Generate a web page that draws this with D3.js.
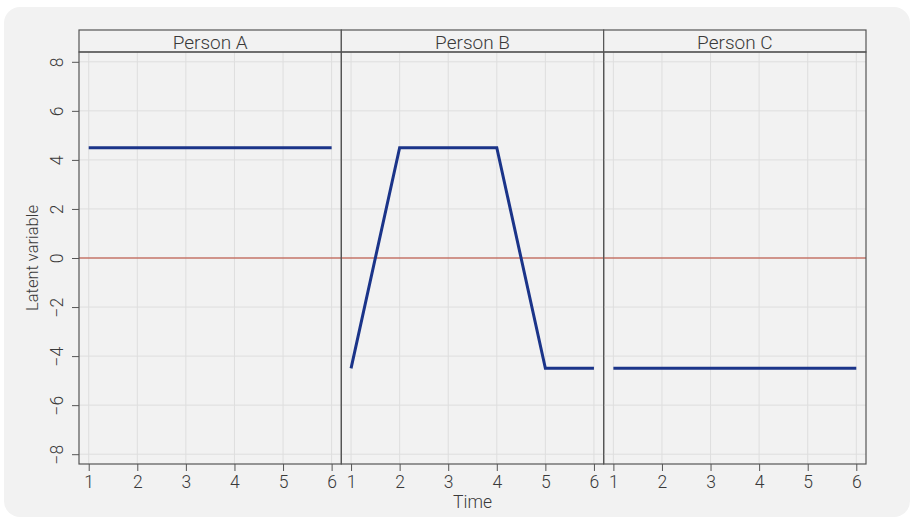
<!DOCTYPE html>
<html>
<head>
<meta charset="utf-8">
<script src="https://cdn.jsdelivr.net/npm/d3@7"></script>
<style>
  html, body { margin: 0; padding: 0; background: #ffffff; }
  svg text { font-family: Roboto, "Open Sans", sans-serif; font-weight: 300; fill: #3a3a3a; }
</style>
</head>
<body>
<svg id="chart" width="913" height="518"></svg>
<script>
// data
const persons = ['Person A', 'Person B', 'Person C']
const times = [1, 2, 3, 4, 5, 6]
const personA = [4.5, 4.5, 4.5, 4.5, 4.5, 4.5]
const personB = [-4.5, 4.5, 4.5, 4.5, -4.5, -4.5]
const personC = [-4.5, -4.5, -4.5, -4.5, -4.5, -4.5]
const yTicks = [-8, -6, -4, -2, 0, 2, 4, 6, 8]
const series = [personA, personB, personC]

const width = 913
const height = 518
const margin = { top: 52, right: 47, bottom: 54, left: 79 }
const stripHeight = 22

const svg = d3.select('#chart')

// card background
svg.append('rect')
  .attr('x', 4).attr('y', 7)
  .attr('width', 906).attr('height', 510)
  .attr('rx', 16)
  .attr('fill', '#f2f2f2')

const panel = d3.scaleBand()
  .domain(persons)
  .range([margin.left, width - margin.right])
  .padding(0)

const y = d3.scaleLinear()
  .domain([-8.4, 8.4])
  .range([height - margin.bottom, margin.top])

const line = d3.line()

persons.forEach((name, i) => {
  const x0 = panel(name)
  const x = d3.scaleLinear()
    .domain([0.8, 6.2])
    .range([x0, x0 + panel.bandwidth()])

  const g = svg.append('g').attr('class', 'panel')

  // grid
  g.selectAll('line.vgrid')
    .data(times)
    .enter()
    .append('line')
    .attr('x1', d => x(d)).attr('x2', d => x(d))
    .attr('y1', y.range()[1]).attr('y2', y.range()[0])
    .attr('stroke', '#dedede').attr('stroke-width', 1)

  g.selectAll('line.hgrid')
    .data(yTicks)
    .enter()
    .append('line')
    .attr('x1', x.range()[0]).attr('x2', x.range()[1])
    .attr('y1', d => y(d)).attr('y2', d => y(d))
    .attr('stroke', '#dedede').attr('stroke-width', 1)

  // zero reference line
  g.append('line')
    .attr('x1', x.range()[0]).attr('x2', x.range()[1])
    .attr('y1', y(0)).attr('y2', y(0))
    .attr('stroke', '#b8412f').attr('stroke-width', 1.1)

  // data line
  g.append('path')
    .datum(times.map((t, j) => [x(t), y(series[i][j])]))
    .attr('d', line)
    .attr('fill', 'none')
    .attr('stroke', '#1b3489')
    .attr('stroke-width', 3)

  // x axis
  const xAxis = g.append('g')
    .attr('transform', `translate(0,${y.range()[0]})`)
    .call(d3.axisBottom(x).tickValues(times).tickSize(7).tickPadding(5).tickFormat(d3.format('d')))
  xAxis.select('.domain').remove()
  xAxis.selectAll('.tick line').attr('stroke', '#555')
  xAxis.selectAll('.tick text')
    .style('font-size', '17.5px')
    .attr('fill', '#3a3a3a')
    .attr('font-family', null)

  // strip
  g.append('rect')
    .attr('x', x0).attr('y', margin.top - stripHeight)
    .attr('width', panel.bandwidth()).attr('height', stripHeight)
    .attr('fill', '#f2f2f2')
    .attr('stroke', '#555').attr('stroke-width', 1.2)

  g.append('text')
    .attr('x', x0 + panel.bandwidth() / 2)
    .attr('y', margin.top - 3.5)
    .attr('text-anchor', 'middle')
    .style('font-size', '19px')
    .text(name)

  // panel border
  g.append('rect')
    .attr('x', x0).attr('y', margin.top)
    .attr('width', panel.bandwidth()).attr('height', y.range()[0] - margin.top)
    .attr('fill', 'none')
    .attr('stroke', '#555').attr('stroke-width', 1.2)
})

// y axis (rotated tick labels)
const yAxis = svg.append('g')
  .attr('transform', `translate(${margin.left},0)`)
  .call(d3.axisLeft(y).tickValues(yTicks).tickSize(7))
yAxis.select('.domain').remove()
yAxis.selectAll('.tick line').attr('stroke', '#555')
yAxis.selectAll('.tick text')
  .attr('font-family', null)
  .attr('fill', '#3a3a3a')
  .attr('x', null)
  .attr('dy', null)
  .attr('y', -16)
  .attr('text-anchor', 'middle')
  .attr('transform', 'rotate(-90)')
  .style('font-size', '17.5px')
  .text(d => d < 0 ? '\u2212' + Math.abs(d) : d)

// axis titles
svg.append('text')
  .attr('transform', `translate(38,${(y.range()[0] + y.range()[1]) / 2}) rotate(-90)`)
  .attr('text-anchor', 'middle')
  .style('font-size', '16.5px')
  .text('Latent variable')

svg.append('text')
  .attr('x', (margin.left + width - margin.right) / 2)
  .attr('y', 508)
  .attr('text-anchor', 'middle')
  .style('font-size', '17.5px')
  .text('Time')
</script>
</body>
</html>
